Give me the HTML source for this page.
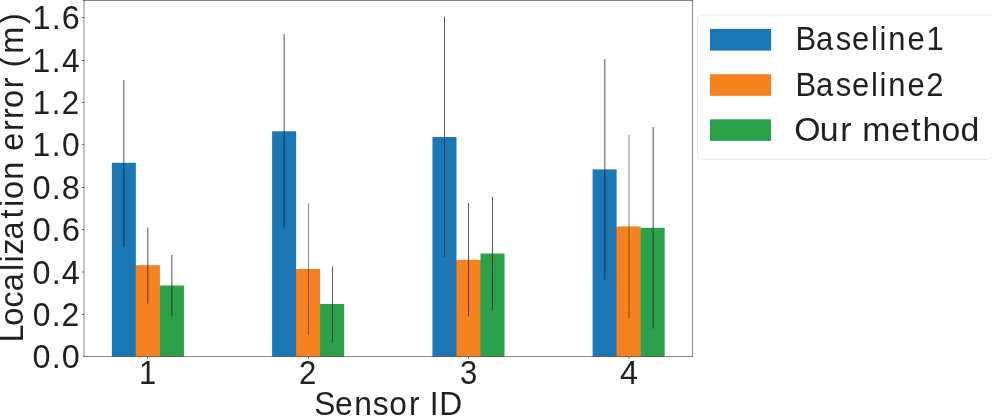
<!DOCTYPE html>
<html><head><meta charset="utf-8"><style>
html,body{margin:0;padding:0;background:#fff;width:992px;height:416px;overflow:hidden}
svg{position:absolute;left:0;top:0;display:block;will-change:transform}
text{font-family:"Liberation Sans", sans-serif;font-size:32.50px;fill:#231f20;font-kerning:none}
</style></head><body>
<svg width="992" height="416" viewBox="0 0 992 416">
<rect x="111.85" y="162.80" width="24.03" height="193.70" fill="#1a76b5"/>
<rect x="135.38" y="266.20" width="1.5" height="90.30" fill="#1a76b5"/>
<rect x="135.88" y="265.20" width="24.03" height="91.30" fill="#f5821f"/>
<rect x="159.41" y="286.50" width="1.5" height="70.00" fill="#f5821f"/>
<rect x="159.91" y="285.50" width="24.03" height="71.00" fill="#2ca04a"/>
<rect x="272.10" y="131.30" width="24.03" height="225.20" fill="#1a76b5"/>
<rect x="295.63" y="270.00" width="1.5" height="86.50" fill="#1a76b5"/>
<rect x="296.13" y="269.00" width="24.03" height="87.50" fill="#f5821f"/>
<rect x="319.66" y="305.00" width="1.5" height="51.50" fill="#f5821f"/>
<rect x="320.16" y="304.00" width="24.03" height="52.50" fill="#2ca04a"/>
<rect x="432.45" y="137.00" width="24.03" height="219.50" fill="#1a76b5"/>
<rect x="455.98" y="260.80" width="1.5" height="95.70" fill="#1a76b5"/>
<rect x="456.48" y="259.80" width="25.03" height="96.70" fill="#f5821f"/>
<rect x="480.51" y="253.50" width="24.03" height="103.00" fill="#2ca04a"/>
<rect x="592.60" y="169.40" width="24.03" height="187.10" fill="#1a76b5"/>
<rect x="616.13" y="227.40" width="1.5" height="129.10" fill="#1a76b5"/>
<rect x="616.63" y="226.40" width="24.03" height="130.10" fill="#f5821f"/>
<rect x="640.16" y="228.80" width="1.5" height="127.70" fill="#f5821f"/>
<rect x="640.66" y="227.80" width="24.03" height="128.70" fill="#2ca04a"/>
<rect x="123" y="79.90" width="1" height="166.90" fill="#231f20" fill-opacity="0.51"/>
<rect x="124" y="79.90" width="1" height="166.90" fill="#231f20" fill-opacity="0.28"/>
<rect x="147" y="227.50" width="1" height="76.10" fill="#231f20" fill-opacity="0.51"/>
<rect x="148" y="227.50" width="1" height="76.10" fill="#231f20" fill-opacity="0.28"/>
<rect x="171" y="254.90" width="1" height="61.60" fill="#231f20" fill-opacity="0.51"/>
<rect x="172" y="254.90" width="1" height="61.60" fill="#231f20" fill-opacity="0.28"/>
<rect x="283" y="34.10" width="1" height="194.40" fill="#231f20" fill-opacity="0.28"/>
<rect x="284" y="34.10" width="1" height="194.40" fill="#231f20" fill-opacity="0.51"/>
<rect x="308" y="203.20" width="1" height="131.80" fill="#231f20" fill-opacity="0.51"/>
<rect x="332" y="266.40" width="1" height="75.60" fill="#231f20" fill-opacity="0.75"/>
<rect x="444" y="16.80" width="1" height="240.20" fill="#231f20" fill-opacity="0.75"/>
<rect x="468" y="203.00" width="1" height="113.50" fill="#231f20" fill-opacity="0.75"/>
<rect x="492" y="196.90" width="1" height="113.10" fill="#231f20" fill-opacity="0.75"/>
<rect x="604" y="59.00" width="1" height="220.70" fill="#231f20" fill-opacity="0.51"/>
<rect x="605" y="59.00" width="1" height="220.70" fill="#231f20" fill-opacity="0.28"/>
<rect x="628" y="134.60" width="1" height="183.70" fill="#231f20" fill-opacity="0.27"/>
<rect x="629" y="134.60" width="1" height="183.70" fill="#231f20" fill-opacity="0.27"/>
<rect x="652" y="127.00" width="1" height="201.60" fill="#231f20" fill-opacity="0.28"/>
<rect x="653" y="127.00" width="1" height="201.60" fill="#231f20" fill-opacity="0.51"/>
<rect x="83" y="0" width="610" height="1" fill="#231f20" fill-opacity="0.56"/>
<rect x="692" y="0" width="1" height="357" fill="#231f20" fill-opacity="0.51"/>
<rect x="83" y="356" width="610" height="1" fill="#231f20" fill-opacity="0.55"/>
<rect x="83" y="0" width="2" height="357" fill="#231f20" fill-opacity="0.27"/>
<text transform="translate(31.82,368.10) scale(0.9972,1)" x="0.74 19.93 30.08" y="0">0.0</text>
<rect x="82" y="314" width="2" height="1" fill="#231f20" fill-opacity="0.62"/>
<text transform="translate(31.82,326.10) scale(0.9814,1)" x="0.90 20.32 30.30" y="0">0.2</text>
<rect x="82" y="271" width="2" height="2" fill="#231f20" fill-opacity="0.32"/>
<text transform="translate(31.82,283.60) scale(0.9972,1)" x="0.74 19.93 30.08" y="0">0.4</text>
<rect x="82" y="229" width="2" height="1" fill="#231f20" fill-opacity="0.62"/>
<text transform="translate(31.82,241.10) scale(1.0128,1)" x="0.59 19.55 29.48" y="0">0.6</text>
<rect x="82" y="187" width="2" height="1" fill="#231f20" fill-opacity="0.62"/>
<text transform="translate(31.82,199.10) scale(1.0021,1)" x="0.69 19.81 29.89" y="0">0.8</text>
<rect x="82" y="144" width="2" height="1" fill="#231f20" fill-opacity="0.62"/>
<text transform="translate(31.82,156.10) scale(0.9782,1)" x="0.77 20.40 30.85" y="0">1.0</text>
<rect x="82" y="102" width="2" height="1" fill="#231f20" fill-opacity="0.62"/>
<text transform="translate(31.82,114.10) scale(0.9611,1)" x="0.95 20.84 31.13" y="0">1.2</text>
<rect x="82" y="60" width="2" height="1" fill="#231f20" fill-opacity="0.62"/>
<text transform="translate(31.82,72.10) scale(0.9786,1)" x="0.76 20.39 30.82" y="0">1.4</text>
<rect x="82" y="17" width="2" height="1" fill="#231f20" fill-opacity="0.62"/>
<text transform="translate(31.82,29.10) scale(0.9941,1)" x="0.60 20.00 30.21" y="0">1.6</text>
<rect x="147" y="357" width="1" height="2" fill="#231f20" fill-opacity="0.55"/>
<text transform="translate(137.99,383.50) scale(0.9502,1)" x="1.07" y="0">1</text>
<rect x="308" y="357" width="1" height="2" fill="#231f20" fill-opacity="0.55"/>
<text transform="translate(298.44,383.50) scale(0.9589,1)" x="0.71" y="0">2</text>
<rect x="468" y="357" width="1" height="2" fill="#231f20" fill-opacity="0.55"/>
<text transform="translate(458.74,383.50) scale(0.9554,1)" x="1.21" y="0">3</text>
<rect x="628" y="357" width="1" height="2" fill="#231f20" fill-opacity="0.3"/>
<rect x="629" y="357" width="1" height="2" fill="#231f20" fill-opacity="0.3"/>
<text transform="translate(619.14,383.50) scale(0.9950,1)" x="0.76" y="0">4</text>
<text transform="translate(314.83,415.20) scale(0.9769,1)" x="-0.70 20.61 40.23 59.42 76.08 96.37 108.09 117.71 127.27" y="0">Sensor ID</text>
<text transform="translate(22.80,342.70) rotate(-90) scale(0.9992,1)" x="0.14 16.92 35.29 51.42 71.68 80.22 88.16 103.40 124.42 135.70 143.92 163.10 182.16 192.02 211.92 224.00 234.82 254.72 266.22 275.37 289.08 318.89" y="0">Localization error (m)</text>
<rect x="697.5" y="15" width="295.5" height="144.3" rx="4.5" ry="4.5" fill="#fff" fill-opacity="0.8" stroke="#e8e8e8" stroke-width="1"/>
<rect x="710" y="29.00" width="61.1" height="21.6" fill="#1a76b5"/>
<text transform="translate(795.40,50.35) scale(0.9520,1)" x="0.18 21.75 42.33 59.56 79.31 88.28 97.59 117.70 137.63" y="0">Baseline1</text>
<rect x="710" y="74.20" width="61.1" height="21.6" fill="#f5821f"/>
<text transform="translate(795.40,95.55) scale(0.9532,1)" x="0.16 21.71 42.27 59.48 79.21 88.17 97.46 117.55 137.19" y="0">Baseline2</text>
<rect x="710" y="119.30" width="61.1" height="21.6" fill="#2ca04a"/>
<text transform="translate(795.40,140.65) scale(1.0402,1)" x="-1.03 23.45 43.07 54.19 64.29 92.20 111.43 122.13 140.48 158.69" y="0">Our method</text>
</svg>
</body></html>
